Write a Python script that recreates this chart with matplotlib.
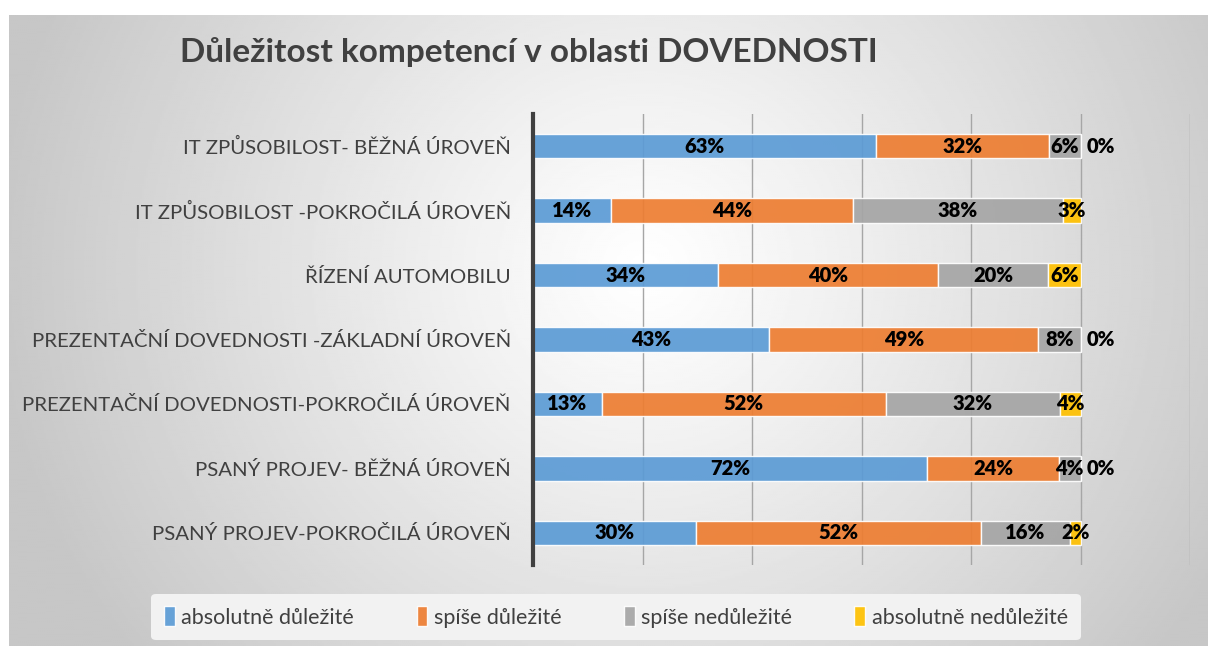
import numpy as np
import matplotlib
matplotlib.use("Agg")
import matplotlib.pyplot as plt

plt.rcParams['font.family'] = ['Lato', 'DejaVu Sans']

# data (shares)
categories = [
    "IT ZPŮSOBILOST- BĚŽNÁ ÚROVEŇ",
    "IT ZPŮSOBILOST -POKROČILÁ ÚROVEŇ",
    "ŘÍZENÍ AUTOMOBILU",
    "PREZENTAČNÍ DOVEDNOSTI -ZÁKLADNÍ ÚROVEŇ",
    "PREZENTAČNÍ DOVEDNOSTI-POKROČILÁ ÚROVEŇ",
    "PSANÝ PROJEV- BĚŽNÁ ÚROVEŇ",
    "PSANÝ PROJEV-POKROČILÁ ÚROVEŇ",
]
absolutne_dulezite = [0.627, 0.143, 0.338, 0.431, 0.126, 0.720, 0.298]
spise_dulezite = [0.316, 0.441, 0.402, 0.492, 0.518, 0.240, 0.520]
spise_nedulezite = [0.057, 0.384, 0.201, 0.077, 0.318, 0.040, 0.163]
absolutne_nedulezite = [0.000, 0.032, 0.059, 0.000, 0.038, 0.000, 0.019]
series_names = ["absolutně důležité", "spíše důležité", "spíše nedůležité", "absolutně nedůležité"]
colors = ["#5B9BD5", "#ED7D31", "#A5A5A5", "#FFC000"]

series = [absolutne_dulezite, spise_dulezite, spise_nedulezite, absolutne_nedulezite]
text_col = "#404040"

fig = plt.figure(figsize=(12.08, 6.46), dpi=100)
fig.patch.set_facecolor("white")

# gradient background of the chart area
bg = fig.add_axes([9 / 1208, 0, 1 - 9 / 1208, 1 - 15 / 646], zorder=-10)
h, w = 300, 600
yy, xx = np.mgrid[0:h, 0:w]
cx, cy = 0.53 * w, 0.40 * h
r = np.sqrt(((xx - cx) / w) ** 2 + ((yy - cy) / h * 0.55) ** 2)
r = r / r.max()
val = 1.0 - 0.22 * np.clip(r * 1.15, 0, 1) ** 1.1
bg.imshow(val, cmap="gray", vmin=0, vmax=1, aspect="auto", extent=[0, 1, 0, 1])
bg.set_axis_off()

ax = fig.add_axes([533 / 1208, 81 / 646, (1190 - 533) / 1208, (565 - 114) / 646])
ax.set_facecolor("none")

y = np.arange(len(categories))
left = np.zeros(len(categories))
for vals, name, col in zip(series, series_names, colors):
    vals = np.array(vals)
    ax.barh(y, vals, left=left, height=0.38, color=col, alpha=0.92,
            edgecolor="white", linewidth=1, label=name, zorder=3)
    for yi, l, v in zip(y, left, vals):
        txt = f"{v:.0%}"
        if v < 0.005:
            ax.text(l + v + 0.012, yi, txt, ha="left", va="center",
                    fontsize=14.5, fontweight="heavy", color="black", zorder=4)
        else:
            ax.text(l + v / 2, yi, txt, ha="center", va="center",
                    fontsize=14.5, fontweight="heavy", color="black", zorder=4)
    left += vals

ax.set_xlim(0, 1.2)
ax.set_ylim(len(categories) - 0.5, -0.5)
ax.set_xticks(np.arange(0, 1.21, 0.2))
ax.set_xticklabels([])
ax.tick_params(axis="x", length=0)
ax.xaxis.grid(True, color="#a6a6a6", linewidth=1, zorder=0)
ax.set_axisbelow(True)
ax.set_yticks(y)
ax.set_yticklabels(categories, fontsize=14.7, color=text_col)
ax.tick_params(axis="y", length=0, pad=16)
for s in ["top", "right", "bottom"]:
    ax.spines[s].set_visible(False)
ax.spines["left"].set_color(text_col)
ax.spines["left"].set_linewidth(3)
ax.spines["left"].set_zorder(5)

fig.text(180 / 1208, 1 - 52 / 646, "Důležitost kompetencí v oblasti DOVEDNOSTI",
         fontsize=24, fontweight="bold", color=text_col, ha="left", va="center")

leg = fig.legend(loc="center", bbox_to_anchor=(616 / 1208, 1 - 617 / 646), ncol=4,
                 frameon=True, fontsize=15.5, handlelength=0.5, handleheight=1.0,
                 handletextpad=0.3, columnspacing=2.9, borderpad=0.6,
                 borderaxespad=0)
leg.get_frame().set_facecolor("#f2f2f2")
leg.get_frame().set_edgecolor("none")
leg.get_frame().set_alpha(1)
for t in leg.get_texts():
    t.set_color(text_col)

fig.savefig("out.png", dpi=100)
